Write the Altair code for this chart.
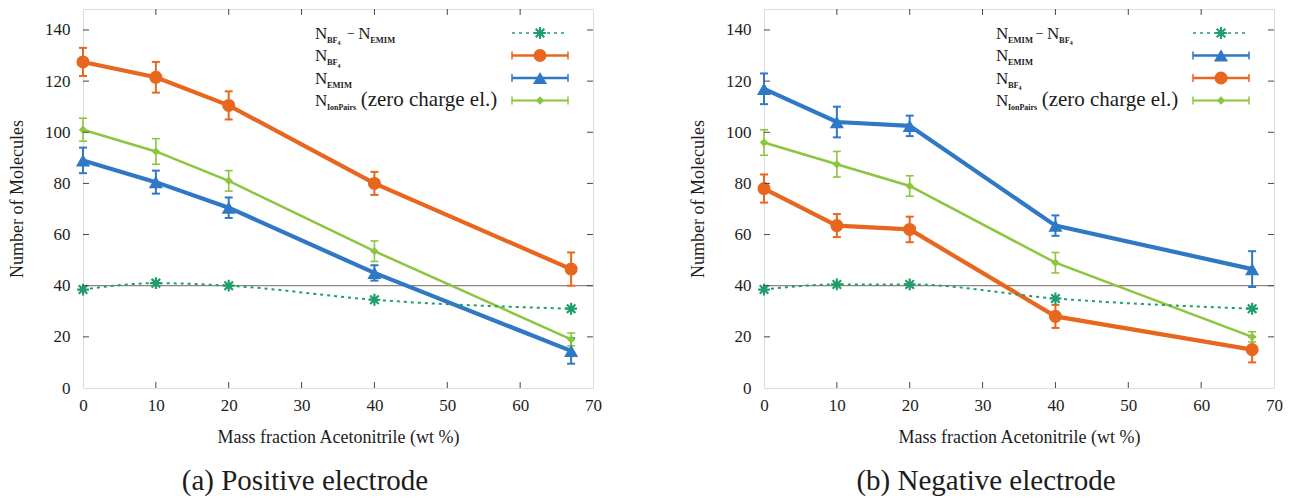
import altair as alt
import pandas as pd

# ---------------- data ----------------
x_pct = [0, 10, 20, 40, 67]
y_ticks = [0, 20, 40, 60, 80, 100, 120, 140]
x_ticks = [0, 10, 20, 30, 40, 50, 60, 70]
ref_level = 40

# (a) Positive electrode
a_diff = [38.5, 41, 40, 34.5, 31]
a_bf4 = [127.5, 121.5, 110.5, 80, 46.5]
a_bf4_err = [5.5, 6, 5.5, 4.5, 6.5]
a_emim = [89, 80.5, 70.5, 45, 14.5]
a_emim_err = [5, 4.5, 4, 3, 5]
a_pairs = [101, 92.5, 81, 53.5, 19]
a_pairs_err = [4.5, 5, 4, 4, 2.5]

# (b) Negative electrode
b_diff = [38.5, 40.5, 40.5, 35, 31]
b_emim = [117, 104, 102.5, 63.5, 46.5]
b_emim_err = [6, 6, 4, 4, 7]
b_bf4 = [78, 63.5, 62, 28, 15]
b_bf4_err = [5.5, 4.5, 5, 4.5, 5]
b_pairs = [96, 87.5, 79, 49, 20]
b_pairs_err = [5, 5, 4, 4, 2]

a_legend_keys = ["diff", "BF4", "EMIM", "pairs"]
a_legend_rows = [
    [("N", "m"), ("BF", "s"), ("4", "ss"), ("\u2212", "op"), ("N", "m"), ("EMIM", "s")],
    [("N", "m"), ("BF", "s"), ("4", "ss")],
    [("N", "m"), ("EMIM", "s")],
    [("N", "m"), ("IonPairs", "s2"), ("(zero charge el.)", "p")],
]
b_legend_keys = ["diff", "EMIM", "BF4", "pairs"]
b_legend_rows = [
    [("N", "m"), ("EMIM", "s"), ("\u2212", "op"), ("N", "m"), ("BF", "s"), ("4", "ss")],
    [("N", "m"), ("EMIM", "s")],
    [("N", "m"), ("BF", "s"), ("4", "ss")],
    [("N", "m"), ("IonPairs", "s2"), ("(zero charge el.)", "p")],
]
a_caption = "(a) Positive electrode"
b_caption = "(b) Negative electrode"
x_title = "Mass fraction Acetonitrile (wt %)"
y_title = "Number of Molecules"

# ---------------- style ----------------
W, H = 510, 379
FONT = "Liberation Serif, Times New Roman, serif"
TXT = "#1c1c1c"
BORDER = "#4f4444"
COLORS = {"diff": "#1f9e6c", "BF4": "#e8661e", "EMIM": "#2f78c6", "pairs": "#8cc63e"}
LW = {"BF4": 4.2, "EMIM": 4.2, "pairs": 2.5}
EW = {"BF4": 2.0, "EMIM": 2.0, "pairs": 1.6}
SHAPE = {"BF4": "circle", "EMIM": "triangle-up", "pairs": "diamond"}
MSIZE = {"BF4": 170, "EMIM": 200, "pairs": 70}
ASTER = "M-1,0L1,0M0,-1L0,1M-0.72,-0.72L0.72,0.72M-0.72,0.72L0.72,-0.72"

xscale = alt.Scale(domain=[0, 70], nice=False, zero=False)
yscale = alt.Scale(domain=[0, 148.2], nice=False, zero=False)
xaxis = alt.Axis(values=x_ticks, ticks=False, domain=False, grid=False,
                 labelFont=FONT, labelFontSize=17, labelColor=TXT, labelPadding=9,
                 labelFlush=False, title=x_title, titleFont=FONT, titleFontSize=18,
                 titleFontWeight="normal", titleColor=TXT, titlePadding=15)
yaxis = alt.Axis(values=y_ticks, ticks=False, domain=False, grid=False,
                 labelFont=FONT, labelFontSize=17, labelColor=TXT, labelPadding=13,
                 labelFlush=False, title=y_title, titleFont=FONT, titleFontSize=18,
                 titleFontWeight="normal", titleColor=TXT, titlePadding=18)


def X(f):
    return alt.X(f, type="quantitative", scale=xscale, axis=xaxis)


def Y(f):
    return alt.Y(f, type="quantitative", scale=yscale, axis=yaxis)


color_enc = alt.Color("series:N", scale=alt.Scale(domain=list(COLORS.keys()),
                                                   range=list(COLORS.values())), legend=None)

# approximate glyph widths (em) of the font that gets rendered
REG = {'N': .70, 'B': .62, 'F': .56, 'E': .60, 'M': .80, 'I': .26, 'o': .52, 'n': .52,
       'P': .60, 'a': .50, 'i': .22, 'r': .32, 's': .46, '\u2212': .56, ' ': .25,
       '(': .30, ')': .30, 'z': .45, 'e': .50, 'c': .46, 'h': .52, 'g': .52, 'l': .22,
       '.': .25, '4': .52}
BOLD = {'N': .72, 'B': .68, 'F': .58, 'E': .63, 'M': .83, 'I': .28, 'o': .57, 'n': .57,
        'P': .63, 'a': .53, 'i': .26, 'r': .37, 's': .51, '4': .55}
# style: (font size, weight, baseline shift, gap before, gap after)
PSTYLE = {"m": (17, "normal", 0, 0, 0), "s": (8.5, "bold", 4, 0, 0),
          "s2": (8, "bold", 4, 0, 0), "ss": (6, "bold", 6.5, 0, 0),
          "op": (14, "normal", -1, 6, 3.5), "p": (21, "normal", 0, 4, 0)}


def twidth(s, style):
    size, weight = PSTYLE[style][0], PSTYLE[style][1]
    tab = BOLD if weight == "bold" else REG
    return sum(tab.get(ch, 0.5) for ch in s) * size


ONE = pd.DataFrame({"_": [0]})


def panel(vals, errs, diff, legend_rows, legend_keys, caption):
    rows = []
    for k in ["BF4", "EMIM", "pairs"]:
        for xi, yi, ei in zip(x_pct, vals[k], errs[k]):
            rows.append({"series": k, "x": xi, "y": yi, "lo": yi - ei, "hi": yi + ei,
                         "lw": LW[k], "ew": EW[k], "shape": SHAPE[k], "ms": MSIZE[k]})
    df = pd.DataFrame(rows)
    ddf = pd.DataFrame({"series": "diff", "x": x_pct, "y": diff})

    layers = []
    layers.append(alt.Chart(pd.DataFrame({"v": [ref_level]})).mark_rule(
        color="#8e8585", strokeWidth=1.2).encode(y=Y("v")))
    base = alt.Chart(df)
    layers.append(base.mark_rule().encode(
        x=X("x"), y=Y("lo"), y2="hi", color=color_enc,
        strokeWidth=alt.StrokeWidth("ew:Q", scale=None)))
    for f in ["lo", "hi"]:
        layers.append(base.mark_rule(xOffset=-4, x2Offset=4).encode(
            x=X("x"), x2="x", y=Y(f), color=color_enc,
            strokeWidth=alt.StrokeWidth("ew:Q", scale=None)))
    layers.append(base.mark_line().encode(
        x=X("x"), y=Y("y"), color=color_enc, detail="series:N",
        strokeWidth=alt.StrokeWidth("lw:Q", scale=None)))
    layers.append(base.mark_point(filled=True, opacity=1).encode(
        x=X("x"), y=Y("y"), color=color_enc,
        shape=alt.Shape("shape:N", scale=None), size=alt.Size("ms:Q", scale=None)))
    layers.append(alt.Chart(ddf).mark_line(strokeDash=[3, 4], strokeWidth=2,
                                           interpolate="monotone").encode(
        x=X("x"), y=Y("y"), color=color_enc))
    layers.append(alt.Chart(ddf).mark_point(shape=ASTER, filled=False, size=140,
                                            strokeWidth=2.2, opacity=1).encode(
        x=X("x"), y=Y("y"), color=color_enc))

    # inward mirror ticks
    ydf = pd.DataFrame({"v": y_ticks[1:]})
    xdf = pd.DataFrame({"v": x_ticks[1:-1]})
    layers.append(alt.Chart(ydf).mark_rule(color=BORDER, strokeWidth=1).encode(
        y=Y("v"), x=alt.value(0), x2=alt.value(6)))
    layers.append(alt.Chart(ydf).mark_rule(color=BORDER, strokeWidth=1).encode(
        y=Y("v"), x=alt.value(W - 6), x2=alt.value(W)))
    layers.append(alt.Chart(xdf).mark_rule(color=BORDER, strokeWidth=1).encode(
        x=X("v"), y=alt.value(H - 6), y2=alt.value(H)))
    layers.append(alt.Chart(xdf).mark_rule(color=BORDER, strokeWidth=1).encode(
        x=X("v"), y=alt.value(0), y2=alt.value(6)))

    # legend (text with subscripts built from pieces)
    centers = [24, 46.5, 69, 91.5]
    for cy, key, pieces in zip(centers, legend_keys, legend_rows):
        col = COLORS[key]
        px = 232
        for txt, st in pieces:
            size, weight, dy, g0, g1 = PSTYLE[st]
            px += g0
            layers.append(alt.Chart(ONE).mark_text(
                align="left", baseline="alphabetic", font=FONT, fontSize=size,
                fontWeight=weight, color=TXT).encode(
                x=alt.value(px), y=alt.value(cy + 5.5 + dy), text=alt.value(txt)))
            px += twidth(txt, st) + g1
        if key == "diff":
            layers.append(alt.Chart(ONE).mark_rule(color=col, strokeWidth=1.6,
                                                   strokeDash=[3, 4]).encode(
                x=alt.value(429), x2=alt.value(485), y=alt.value(cy)))
            layers.append(alt.Chart(ONE).mark_point(shape=ASTER, filled=False, size=140,
                                                    strokeWidth=2.2, color=col, opacity=1).encode(
                x=alt.value(457), y=alt.value(cy)))
        else:
            w = 2.4 if key != "pairs" else 2.0
            layers.append(alt.Chart(ONE).mark_rule(color=col, strokeWidth=w).encode(
                x=alt.value(429), x2=alt.value(485), y=alt.value(cy)))
            for ex in [429, 485]:
                layers.append(alt.Chart(ONE).mark_rule(color=col, strokeWidth=1.5).encode(
                    x=alt.value(ex), y=alt.value(cy - 4), y2=alt.value(cy + 4)))
            layers.append(alt.Chart(ONE).mark_point(shape=SHAPE[key], filled=True,
                                                    size=MSIZE[key], color=col, opacity=1).encode(
                x=alt.value(457), y=alt.value(cy)))

    return alt.layer(*layers).properties(
        width=W, height=H,
        title=alt.TitleParams(caption, orient="bottom", anchor="middle", frame="bounds",
                              font=FONT, fontSize=29, fontWeight="normal", color=TXT,
                              offset=21))


pa = panel({"BF4": a_bf4, "EMIM": a_emim, "pairs": a_pairs},
           {"BF4": a_bf4_err, "EMIM": a_emim_err, "pairs": a_pairs_err},
           a_diff, a_legend_rows, a_legend_keys, a_caption)
pb = panel({"BF4": b_bf4, "EMIM": b_emim, "pairs": b_pairs},
           {"BF4": b_bf4_err, "EMIM": b_emim_err, "pairs": b_pairs_err},
           b_diff, b_legend_rows, b_legend_keys, b_caption)

chart = alt.hconcat(pa, pb, spacing=87).properties(padding=0).configure_view(
    stroke=BORDER, strokeWidth=1.3).configure(background="white")

chart.save("out.html", embed_options={"renderer": "svg", "actions": False})
